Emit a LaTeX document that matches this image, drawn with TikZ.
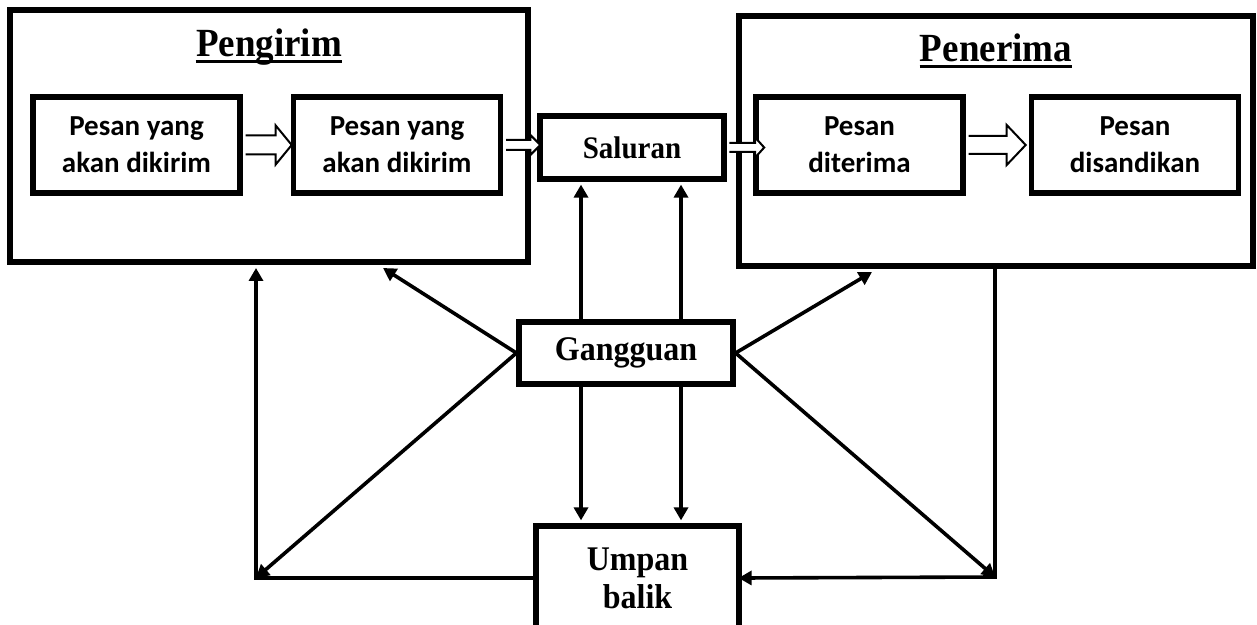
\documentclass[tikz,border=0pt]{standalone}
\usepackage{fontspec}
\usepackage{graphicx}
\usepackage{tikz}
\setmainfont{Liberation Serif}
\newfontfamily\calibri{Carlito}
\usetikzlibrary{arrows.meta,calc}

% taller serif lettering
\newcommand{\tinggi}[1]{\scalebox{1}[1.08]{#1}}

% hollow block arrow between two boxes
\newcommand{\panahkosong}[6]{%
  \coordinate (pangkal) at ([xshift=1.4pt]#1.east);
  \path (#2.west |- pangkal) ++(#6,0) coordinate (ujung);
  \draw[hollow] ($(pangkal)+(0,-#3)$) -- ($(ujung)+(-#5,-#3)$) -- ($(ujung)+(-#5,-#4)$)
    -- (ujung) -- ($(ujung)+(-#5,#4)$) -- ($(ujung)+(-#5,#3)$) -- ($(pangkal)+(0,#3)$);
}

\begin{document}
\begin{tikzpicture}[x=0.5pt,y=-0.5pt,
  wadah/.style={draw,line width=3pt,inner sep=0pt},
  kotak/.style={draw,line width=2.8pt,inner sep=0pt,minimum width=103.5pt,minimum height=48pt,
    align=center,font=\calibri\bfseries\fontsize{14.5}{18.5}\selectfont},
  blok/.style={draw,line width=2.6pt,inner sep=0pt,align=center,font=\bfseries\fontsize{16}{19}\selectfont},
  judul/.style={inner sep=0pt,anchor=base,font=\bfseries\fontsize{18.5}{22}\selectfont},
  garis/.style={line width=1.8pt,-{Triangle[length=6.5pt,width=7pt]}},
  hollow/.style={line width=1pt,fill=white,line join=miter}]
  \useasboundingbox (0,0) rectangle (1257,625);
  \clip (0,0) rectangle (1257,625);

  % Sender and receiver frames
  \node[wadah,minimum width=259pt,minimum height=126pt] (pengirim) at (269,136) {};
  \node[wadah,minimum width=257pt,minimum height=125pt] (penerima) at (996,141) {};

  % Titles
  \node[judul] (judulKirim) at ($(pengirim.north)+(0,50)$) {\tinggi{Pengirim}};
  \node[judul] (judulTerima) at ($(penerima.north)+(0,49)$) {\tinggi{Penerima}};
  \draw[line width=1.5pt] ([yshift=-2.5pt]judulKirim.base west) -- ([yshift=-2.5pt]judulKirim.base east);
  \draw[line width=1.5pt] ([yshift=-2.5pt]judulTerima.base west) -- ([yshift=-2.5pt]judulTerima.base east);

  % Message boxes
  \node[kotak] (kirimA) at (136.5,145) {Pesan yang\\akan dikirim};
  \node[kotak] (kirimB) at (397,145) {Pesan yang\\akan dikirim};
  \node[kotak] (terima) at (859.5,145) {Pesan\\diterima};
  \node[kotak] (sandi) at (1135,145) {Pesan\\disandikan};

  % Channel, noise, feedback
  \node[blok,minimum width=92pt,minimum height=31.5pt,font=\bfseries\fontsize{14.5}{17}\selectfont] (saluran) at (632,147.5) {\tinggi{Saluran}};
  \node[blok,minimum width=107pt,minimum height=31pt] (gangguan) at (626,353) {\tinggi{Gangguan}};
  \node[blok,minimum width=101.5pt,minimum height=52pt] (umpan) at (637.5,578) {\tinggi{Umpan}\\\tinggi{balik}};

  % Block arrows
  \panahkosong{kirimA}{kirimB}{9.5}{19.5}{16}{1}
  \panahkosong{kirimB}{saluran}{5}{10}{10}{3}
  \panahkosong{saluran}{terima}{4.5}{10}{9}{11}
  \panahkosong{terima}{sandi}{9}{20}{19}{-3}

  % Corner points
  \coordinate (kiri) at (256,578);
  \coordinate (kanan) at (995,577);
  \coordinate (tujuanKirim) at ([xshift=57pt,yshift=-1.5pt]pengirim.south);
  \coordinate (tujuanTerima) at ([xshift=-62pt,yshift=-1.5pt]penerima.south);

  % Noise to channel and feedback
  \draw[garis,shorten >=1.5pt] ([xshift=-22.5pt]gangguan.north) -- ([xshift=-22.5pt]gangguan.north |- saluran.south);
  \draw[garis,shorten >=1.5pt] ([xshift=27.5pt]gangguan.north) -- ([xshift=27.5pt]gangguan.north |- saluran.south);
  \draw[garis,shorten >=1.5pt] ([xshift=-22.5pt]gangguan.south) -- ([xshift=-22.5pt]gangguan.south |- umpan.north);
  \draw[garis,shorten >=1.5pt] ([xshift=27.5pt]gangguan.south) -- ([xshift=27.5pt]gangguan.south |- umpan.north);

  % Noise to sender and receiver
  \draw[garis] (gangguan.west) -- (tujuanKirim);
  \draw[garis] (gangguan.west) -- (kiri);
  \draw[garis] (gangguan.east) -- (tujuanTerima);
  \draw[garis] (gangguan.east) -- (kanan);

  % Feedback loops
  \draw[garis] (umpan.west) -- (kiri) -- (kiri |- tujuanKirim);
  \draw[garis,shorten >=-1.5pt] (kanan |- penerima.south) -- (kanan) -- (umpan.east);
\end{tikzpicture}
\end{document}
